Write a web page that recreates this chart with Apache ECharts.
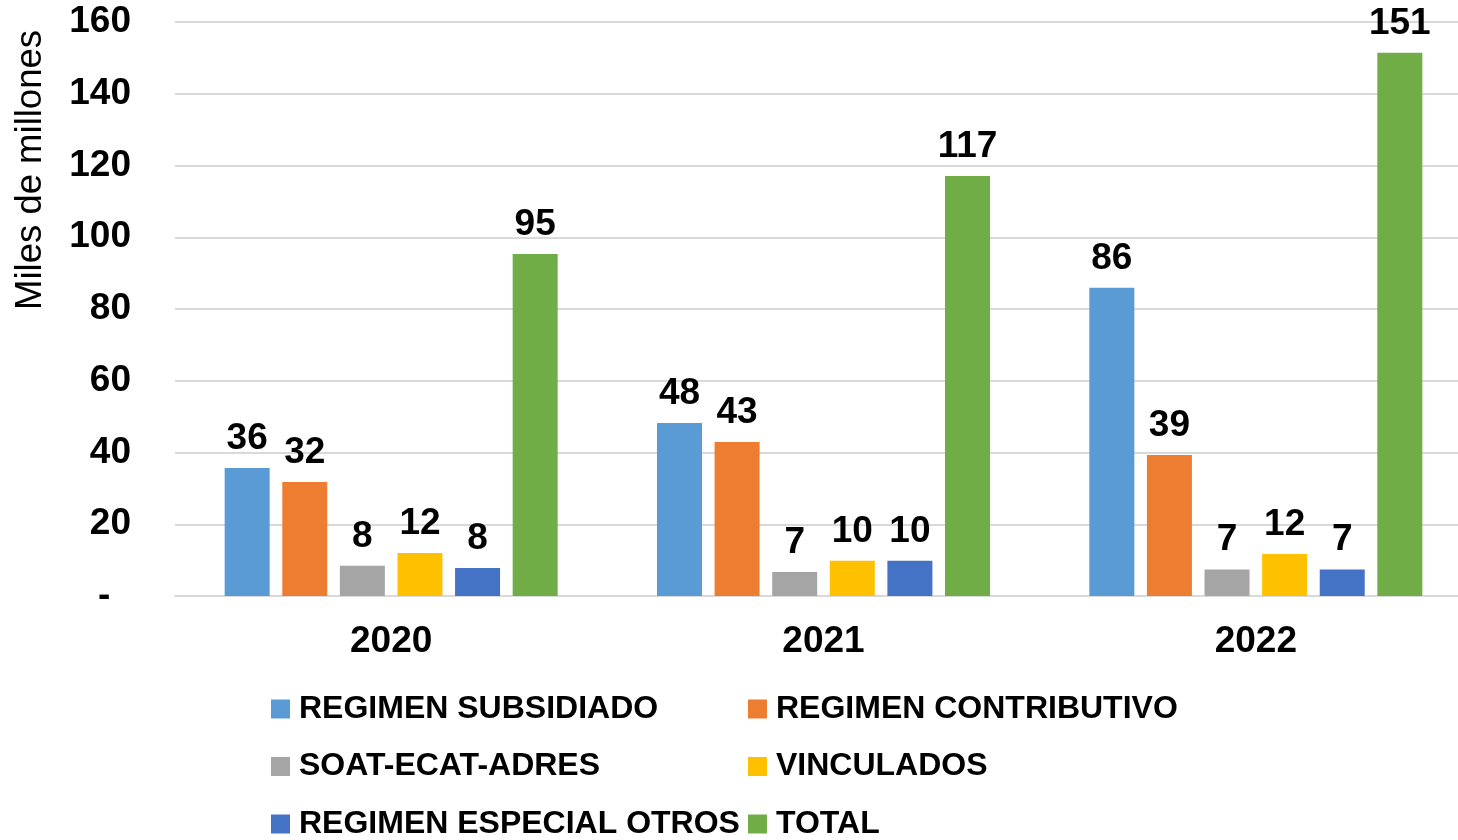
<!DOCTYPE html>
<html>
<head>
<meta charset="utf-8">
<script src="https://cdn.jsdelivr.net/npm/echarts@6/dist/echarts.min.js"></script>
<style>
  html, body { margin: 0; padding: 0; background: #fff; }
  #chart { width: 1458px; height: 840px; }
</style>
</head>
<body>
<div id="chart"></div>
<script>
  var years = ['2020', '2021', '2022']
  var seriesNames = ['REGIMEN SUBSIDIADO', 'REGIMEN CONTRIBUTIVO', 'SOAT-ECAT-ADRES', 'VINCULADOS', 'REGIMEN ESPECIAL OTROS', 'TOTAL']
  var subsidiado = [35.7, 48.2, 85.9]
  var contributivo = [31.8, 42.9, 39.3]
  var soat = [8.4, 6.7, 7.4]
  var vinculados = [12.0, 9.8, 11.7]
  var especial = [7.8, 9.8, 7.4]
  var total = [95.3, 117.1, 151.4]
  var colors = ['#5B9BD5', '#ED7D31', '#A5A5A5', '#FFC000', '#4472C4', '#70AD47']

  var font = 'Liberation Sans, Arial, sans-serif'
  var myChart = echarts.init(document.getElementById('chart'))

  var allData = [subsidiado, contributivo, soat, vinculados, especial, total]
  var series = allData.map(function (d, i) {
    return {
      name: seriesNames[i],
      type: 'bar',
      data: d,
      barWidth: 45,
      barGap: '28%',
      itemStyle: { color: colors[i] },
      label: {
        show: true,
        position: 'top',
        distance: 11,
        color: '#000',
        fontFamily: font,
        fontWeight: 'bold',
        fontSize: 37,
        formatter: function (p) { return Math.round(p.value) }
      }
    }
  })

  // legend: 2 columns x 3 rows, one legend per entry so columns line up
  var legends = seriesNames.map(function (name, i) {
    return {
      data: [name],
      left: i % 2 === 0 ? 266 : 743,
      top: 688 + Math.floor(i / 2) * 57.5,
      itemWidth: 19,
      itemHeight: 19,
      icon: 'rect',
      textStyle: { fontFamily: font, fontWeight: 'bold', fontSize: 32, color: '#000', padding: [0, 0, 0, 4] }
    }
  })

  var option = {
    animation: false,
    backgroundColor: '#fff',
    color: colors,
    grid: { left: 175, top: 22, width: 1297, height: 574, outerBoundsMode: 'none', containLabel: false },
    legend: legends,
    graphic: [
      {
        type: 'text',
        left: 12,
        top: 30,
        rotation: Math.PI / 2,
        style: { text: 'Miles de millones', font: '36.5px ' + font, fill: '#000' }
      }
    ],
    xAxis: {
      type: 'category',
      data: years,
      axisLine: { lineStyle: { color: '#d9d9d9', width: 2 } },
      axisTick: { show: false },
      axisLabel: { color: '#000', fontFamily: font, fontWeight: 'bold', fontSize: 37, margin: 27 }
    },
    yAxis: {
      type: 'value',
      min: 0,
      max: 160,
      interval: 20,
      axisLine: { show: false },
      axisTick: { show: false },
      splitLine: { lineStyle: { color: '#d9d9d9', width: 2 } },
      axisLabel: {
        color: '#000',
        fontFamily: font,
        fontWeight: 'bold',
        fontSize: 37,
        margin: 44,
        formatter: function (v) { return v === 0 ? '-  ' : v }
      }
    },
    series: series
  }
  myChart.setOption(option)
</script>
</body>
</html>
